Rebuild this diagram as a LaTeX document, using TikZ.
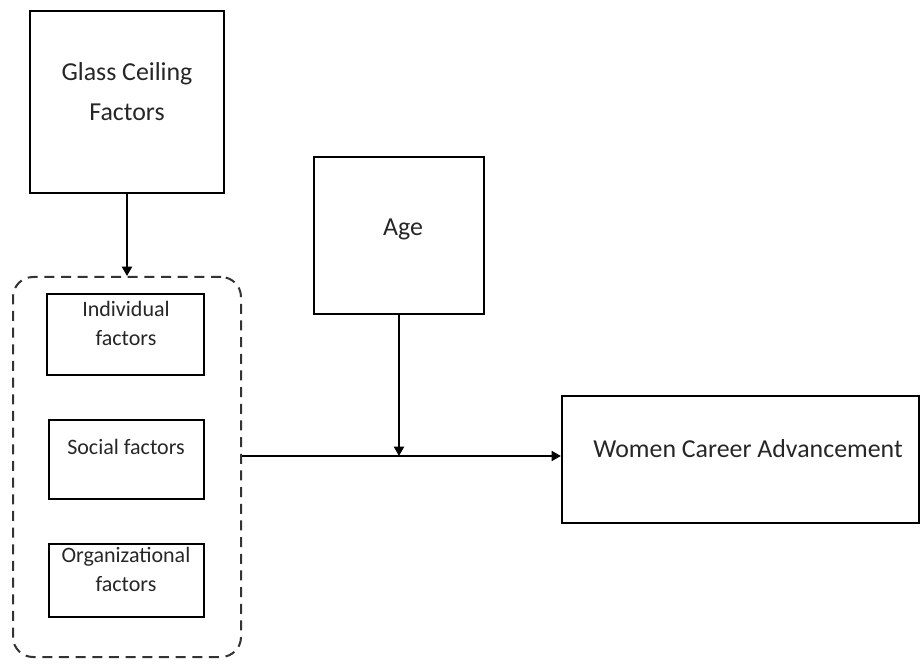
\documentclass[tikz,border=0pt]{standalone}
\usepackage{fontspec}
\setmainfont{Carlito}
\usetikzlibrary{fit,arrows.meta}
\tikzset{
  box/.style={draw=black, line width=1.6pt, inner sep=0pt},
  thinbox/.style={draw=black, line width=1.2pt, inner sep=0pt},
  grp/.style={draw=black!80, line width=1.5pt, dash pattern=on 7.5pt off 5pt, rounded corners=15pt, inner sep=0pt},
  bigtxt/.style={align=center, font=\fontsize{19.4}{30}\selectfont, text=black!85, inner sep=0pt},
  smalltxt/.style={align=center, font=\fontsize{16.5}{21.75}\selectfont, text=black!85, inner sep=0pt},
  conn/.style={line width=1.4pt, -{Triangle[length=7pt,width=7.5pt]}},
}
\begin{document}
\begin{tikzpicture}[x=0.75pt,y=-0.75pt]
\useasboundingbox (0,0) rectangle (921,666);
% boxes
\node[thinbox, fit={(30,11)(224,193)}] (glass) {};
\node[bigtxt] (glassT) at (127,92) {Glass Ceiling\\Factors};
\node[thinbox, fit={(314,157)(484,314)}] (age) {};
\node[bigtxt] (ageT) at (403,229) {Age};
\node[box, fit={(562,396)(919,523)}] (wca) {};
\node[bigtxt] (wcaT) at (748,449) {Women Career Advancement};
\node[grp, fit={(13,277)(241,657)}] (grp) {};
\node[box, fit={(47,294)(204,375)}] (ind) {};
\node[smalltxt] (indT) at (126,323.5) {Individual\\factors};
\node[box, fit={(49,420)(204,499)}] (soc) {};
\node[smalltxt] (socT) at (126,447) {Social factors};
\node[box, fit={(49,544)(204,617)}] (org) {};
\node[smalltxt] (orgT) at (126,569.5) {Organizational\\factors};
% connectors
\coordinate (m) at (399,456);
\draw[conn] (glass.south) -- (grp.north);
\draw[conn] (grp.east |- m) -- (wca.west |- m);
\draw[conn] (age.south) -- (m);
\end{tikzpicture}
\end{document}
